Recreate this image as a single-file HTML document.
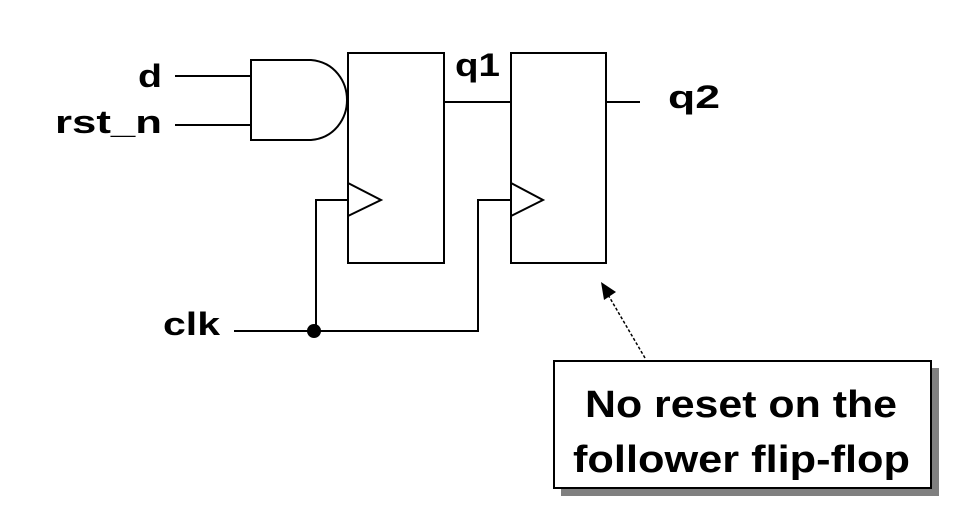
<!DOCTYPE html>
<html><head><meta charset="utf-8"><style>
html,body{margin:0;padding:0;background:#fff;width:976px;height:516px;overflow:hidden}
text{font-family:"Liberation Sans",Arial,sans-serif;font-weight:bold;fill:#000}
</style></head><body>
<svg width="976" height="516" viewBox="0 0 976 516" xmlns="http://www.w3.org/2000/svg">
<g stroke="#000" stroke-width="2" fill="none">
<line x1="175" y1="76" x2="251" y2="76"/>
<line x1="175" y1="125" x2="251" y2="125"/>
<path d="M251,60 L311,60 C335,62 347,82 347,100 C347,118 335,138 311,140 L251,140 Z"/>
<rect x="348" y="53" width="96" height="210"/>
<rect x="511" y="53" width="95" height="210"/>
<line x1="444" y1="102" x2="511" y2="102"/>
<line x1="606" y1="102" x2="640" y2="102"/>
<polyline points="348,183 381,200 348,216"/>
<polyline points="511,183 543,200 511,216"/>
<polyline points="348,200 316,200 316,331"/>
<polyline points="511,200 478,200 478,331 234,331"/>
<line x1="645" y1="358" x2="607" y2="293" stroke-width="1.5" stroke-dasharray="3,2"/>
</g>
<circle cx="314" cy="331" r="7" fill="#000"/>
<polygon points="601,282 616,292 604,300" fill="#000"/>
<rect x="561" y="368" width="378" height="128" fill="#808080"/>
<rect x="554" y="361" width="377" height="127" fill="#fff" stroke="#000" stroke-width="2"/>
<text x="138" y="87" font-size="32" textLength="24" lengthAdjust="spacingAndGlyphs">d</text>
<text x="55" y="133" font-size="32" textLength="107" lengthAdjust="spacingAndGlyphs">rst_n</text>
<text x="455" y="76" font-size="32" textLength="45" lengthAdjust="spacingAndGlyphs">q1</text>
<text x="668" y="108" font-size="32" textLength="52" lengthAdjust="spacingAndGlyphs">q2</text>
<text x="163" y="335" font-size="32" textLength="57" lengthAdjust="spacingAndGlyphs">clk</text>
<text x="585" y="417" font-size="38" textLength="312" lengthAdjust="spacingAndGlyphs">No reset on the</text>
<text x="573" y="472" font-size="38" textLength="337" lengthAdjust="spacingAndGlyphs">follower flip-flop</text>
</svg>
</body></html>
